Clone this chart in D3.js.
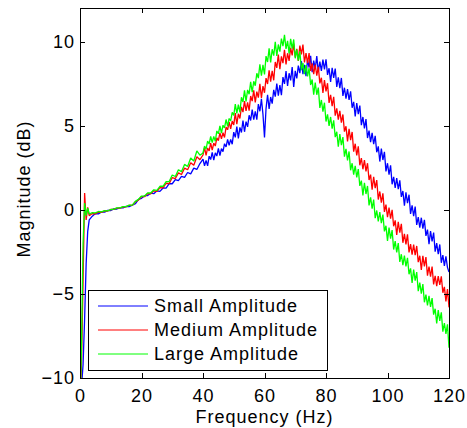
<!DOCTYPE html>
<html>
<head>
<meta charset="utf-8">
<script src="https://cdn.jsdelivr.net/npm/d3@7/dist/d3.min.js"></script>
<style>
body { margin: 0; background: white; }
text {
  font-family: "Liberation Sans", Arial, sans-serif;
  font-size: 18px;
  letter-spacing: 1px;
  fill: black;
}
.axis path, .axis line { stroke: black; fill: none; shape-rendering: crispEdges; }
</style>
</head>
<body>
<script>
// frequency samples (Hz): dense near 0, 1 Hz up to 39, then 0.5 Hz
const freq = [0, 0.5, 1, 1.5, 2, 2.5, 3,
  4, 5, 6, 7, 8, 9, 10, 11, 12, 13, 14, 15, 16, 17, 18, 19, 20, 21,
  22, 23, 24, 25, 26, 27, 28, 29, 30, 31, 32, 33, 34, 35, 36, 37, 38, 39,
  40, 40.5, 41, 41.5, 42, 42.5, 43, 43.5, 44, 44.5,
  45, 45.5, 46, 46.5, 47, 47.5, 48, 48.5, 49, 49.5,
  50, 50.5, 51, 51.5, 52, 52.5, 53, 53.5, 54, 54.5,
  55, 55.5, 56, 56.5, 57, 57.5, 58, 58.5, 59, 59.5,
  60, 60.5, 61, 61.5, 62, 62.5, 63, 63.5, 64, 64.5,
  65, 65.5, 66, 66.5, 67, 67.5, 68, 68.5, 69, 69.5,
  70, 70.5, 71, 71.5, 72, 72.5, 73, 73.5, 74, 74.5,
  75, 75.5, 76, 76.5, 77, 77.5, 78, 78.5, 79, 79.5,
  80, 80.5, 81, 81.5, 82, 82.5, 83, 83.5, 84, 84.5,
  85, 85.5, 86, 86.5, 87, 87.5, 88, 88.5, 89, 89.5,
  90, 90.5, 91, 91.5, 92, 92.5, 93, 93.5, 94, 94.5,
  95, 95.5, 96, 96.5, 97, 97.5, 98, 98.5, 99, 99.5,
  100, 100.5, 101, 101.5, 102, 102.5, 103, 103.5, 104, 104.5,
  105, 105.5, 106, 106.5, 107, 107.5, 108, 108.5, 109, 109.5,
  110, 110.5, 111, 111.5, 112, 112.5, 113, 113.5, 114, 114.5,
  115, 115.5, 116, 116.5, 117, 117.5, 118, 118.5, 119, 119.5,
  120];

const smallAmp = [-12, -10.5, -9.2, -6.5, -3.2, -1.3, -0.6,
  -0.38, -0.22, -0.24, -0.12, -0.14, -0.03, -0.04, 0.06, 0.05, 0.12, 0.11, 0.2, 0.19, 0.27, 0.36, 0.62, 0.68, 0.84,
  0.85, 0.99, 0.96, 1.13, 1.1, 1.3, 1.29, 1.56, 1.55, 1.8, 1.74, 1.99, 1.93, 2.22, 2.14, 2.48, 2.4, 2.75,
  3.02, 2.62, 2.94, 2.61, 3.19, 2.99, 3.42, 2.96, 3.39, 3.2,
  3.66, 3.23, 3.64, 3.46, 3.93, 3.74, 4.19, 3.83, 4.19, 3.9,
  4.62, 4.31, 4.95, 4.25, 4.9, 4.6, 5.31, 4.64, 5.24, 4.93,
  5.62, 5.31, 5.96, 5.36, 5.86, 5.36, 6.29, 5.86, 6.6, 5.68,
  4.3, 6.02, 6.84, 6.0, 6.71, 6.31, 7.13, 6.73, 7.5, 6.79,
  7.42, 6.82, 7.89, 7.49, 8.25, 7.36, 8.12, 7.69, 8.49, 7.3,
  8.26, 7.81, 8.58, 8.13, 8.85, 8.07, 8.62, 7.95, 8.94, 8.46,
  9.15, 8.18, 8.87, 8.39, 9.14, 8.2, 8.81, 8.26, 8.93, 8.35,
  8.95, 8.02, 8.42, 7.6, 8.44, 7.84, 8.4, 7.31, 7.87, 7.24,
  7.84, 6.77, 7.26, 6.61, 7.18, 6.53, 7.05, 6.07, 6.42, 5.55,
  6.34, 5.69, 6.2, 5.03, 5.52, 4.84, 5.39, 4.27, 4.71, 4.03,
  4.58, 3.9, 4.4, 3.42, 3.77, 2.87, 3.64, 2.96, 3.45, 2.28,
  2.77, 2.09, 2.64, 1.52, 1.96, 1.31, 1.88, 1.23, 1.75, 0.77,
  1.12, 0.25, 1.04, 0.39, 0.9, -0.24, 0.27, -0.38, 0.19, -0.9,
  -0.44, -1.06, -0.47, -1.12, -0.6, -1.55, -1.18, -2.05, -1.26, -1.88,
  -1.35, -2.49, -1.98, -2.63, -2.06, -3.15, -2.69, -3.34, -2.77, -3.42,
  -3.7];

const mediumAmp = [-12, -9, -4.2, 1.0, -0.6, 0.15, -0.35,
  -0.22, -0.24, -0.13, -0.15, -0.06, -0.07, 0.02, 0.03, 0.1, 0.1, 0.18, 0.18, 0.27, 0.26, 0.48, 0.58, 0.79, 0.78,
  0.97, 0.95, 1.13, 1.1, 1.32, 1.3, 1.58, 1.56, 1.92, 1.86, 2.2, 2.1, 2.48, 2.38, 2.8, 2.65, 3.15, 2.98,
  3.26, 3.7, 3.24, 3.68, 3.5, 3.97, 3.55, 3.97, 3.79, 4.28,
  4.11, 4.57, 4.22, 4.59, 4.3, 4.92, 4.76, 5.23, 4.81, 5.28,
  5.05, 5.75, 5.09, 5.71, 5.43, 6.12, 5.81, 6.46, 5.88, 6.39,
  5.9, 6.77, 6.46, 7.1, 6.39, 7.03, 6.67, 7.49, 6.65, 7.36,
  6.96, 7.83, 7.48, 8.3, 7.62, 8.27, 7.7, 8.79, 8.44, 9.23,
  8.36, 9.12, 8.72, 9.52, 8.65, 9.31, 8.86, 9.63, 9.18, 9.88,
  9.07, 9.57, 8.85, 9.77, 9.24, 9.83, 8.76, 9.32, 8.72, 9.32,
  8.25, 8.71, 8.06, 8.63, 7.98, 8.5, 7.52, 7.85, 6.95, 7.71,
  7.04, 7.53, 6.36, 6.84, 6.17, 6.72, 5.6, 6.03, 5.36, 5.88,
  5.18, 5.67, 4.65, 4.97, 4.07, 4.82, 4.14, 4.63, 3.46, 3.93,
  3.24, 3.77, 2.65, 3.08, 2.41, 2.95, 2.28, 2.77, 1.77, 2.09,
  1.2, 1.96, 1.29, 1.77, 0.61, 1.09, 0.42, 0.98, -0.12, 0.31,
  -0.44, 0.13, -0.52, 0.0, -0.98, -0.63, -1.5, -0.71, -1.36, -0.83,
  -1.96, -1.43, -2.06, -1.46, -2.53, -2.04, -2.67, -2.07, -2.7, -2.15,
  -3.11, -2.73, -3.57, -2.74, -3.36, -2.81, -3.92, -3.37, -3.98, -3.37,
  -4.43, -3.93, -4.54, -3.94, -4.47, -3.95, -4.93, -4.58, -5.45, -4.71,
  -5.8];

const largeAmp = [-12, -8, -2, 0.4, -0.35, 0.1, -0.25,
  -0.17, -0.18, -0.1, -0.12, -0.05, -0.06, 0.02, 0.04, 0.11, 0.11, 0.19, 0.19, 0.28, 0.28, 0.5, 0.62, 0.82, 0.82,
  1.01, 1.0, 1.19, 1.16, 1.4, 1.4, 1.68, 1.68, 2.07, 1.98, 2.38, 2.27, 2.7, 2.58, 3.08, 2.9, 3.5, 3.25,
  3.38, 3.79, 3.61, 4.09, 3.91, 4.36, 4.0, 4.37, 4.08, 4.69,
  4.52, 4.99, 4.56, 5.03, 4.87, 5.37, 4.98, 5.43, 5.29, 5.8,
  5.61, 6.28, 5.73, 6.26, 5.8, 6.69, 6.41, 7.1, 6.44, 7.13,
  6.87, 7.61, 6.99, 7.64, 7.38, 8.12, 7.83, 8.65, 7.97, 8.62,
  8.05, 9.14, 8.79, 9.6, 8.76, 9.55, 9.17, 9.99, 9.15, 9.83,
  9.41, 10.18, 9.73, 10.4, 9.57, 10.05, 9.3, 10.17, 9.59, 10.13,
  9.01, 9.52, 8.87, 9.42, 8.3, 8.73, 8.06, 8.61, 7.93, 8.42,
  7.42, 7.75, 6.85, 7.57, 6.84, 7.27, 6.06, 6.53, 5.84, 6.37,
  5.25, 5.67, 4.99, 5.52, 4.83, 5.32, 4.32, 4.64, 3.75, 4.51,
  3.84, 4.32, 3.16, 3.63, 2.94, 3.47, 2.35, 2.77, 2.09, 2.62,
  1.93, 2.42, 1.42, 1.74, 0.85, 1.61, 0.94, 1.42, 0.26, 0.74,
  0.07, 0.61, -0.5, -0.04, -0.69, -0.13, -0.79, -0.28, -1.28, -0.95,
  -1.85, -1.06, -1.71, -1.21, -2.36, -1.86, -2.53, -1.98, -3.1, -2.64,
  -3.29, -2.72, -3.37, -2.85, -3.83, -3.48, -4.35, -3.56, -4.21, -3.7,
  -4.84, -4.33, -4.98, -4.41, -5.5, -5.04, -5.69, -5.12, -5.77, -5.25,
  -6.23, -5.88, -6.75, -5.96, -6.61, -6.1, -7.24, -6.73, -7.38, -6.81,
  -8.2];

const seriesNames = ["Small Amplitude", "Medium Amplitude", "Large Amplitude"];
const seriesColors = ["#0000ff", "#ff0000", "#00ff00"];
const xTicks = [0, 20, 40, 60, 80, 100, 120];
const yTicks = [-10, -5, 0, 5, 10];

const W = 467, H = 428;
const margin = {top: 8, right: 18, bottom: 50, left: 80};
const width = W - margin.left - margin.right;
const height = H - margin.top - margin.bottom;

const svg = d3.select("body").append("svg")
  .attr("width", W)
  .attr("height", H);

const g = svg.append("g")
  .attr("transform", `translate(${margin.left},${margin.top})`);

const x = d3.scaleLinear().domain([0, 120]).range([0, width]);
const y = d3.scaleLinear().domain([-10, 12]).range([height, 0]);

g.append("defs").append("clipPath")
  .attr("id", "plotClip")
  .append("rect")
  .attr("width", width)
  .attr("height", height);

const line = d3.line()
  .x((d, i) => x(freq[i]))
  .y(d => y(d));

const dataset = [smallAmp, mediumAmp, largeAmp];

g.selectAll("path.series").data(dataset).enter()
  .append("path")
  .attr("class", "series")
  .attr("fill", "none")
  .attr("stroke", (d, i) => seriesColors[i])
  .attr("stroke-width", 1.3)
  .attr("stroke-linejoin", "bevel")
  .attr("clip-path", "url(#plotClip)")
  .attr("d", line);

// axes, MATLAB style: ticks pointing inward on all four sides
g.append("g").attr("class", "axis")
  .attr("transform", `translate(0,${height})`)
  .call(d3.axisBottom(x).tickValues(xTicks).tickSizeInner(-5).tickSizeOuter(0).tickPadding(11));

g.append("g").attr("class", "axis")
  .call(d3.axisTop(x).tickValues(xTicks).tickSizeInner(-5).tickSizeOuter(0).tickFormat(""));

g.append("g").attr("class", "axis")
  .call(d3.axisLeft(y).tickValues(yTicks).tickSizeInner(-5).tickSizeOuter(0).tickPadding(5));

g.append("g").attr("class", "axis")
  .attr("transform", `translate(${width},0)`)
  .call(d3.axisRight(y).tickValues(yTicks).tickSizeInner(-5).tickSizeOuter(0).tickFormat(""));

g.selectAll(".axis text")
  .style("font-family", '"Liberation Sans", Arial, sans-serif')
  .style("font-size", "18px");

// axis labels
svg.append("text")
  .attr("text-anchor", "middle")
  .attr("x", margin.left + width / 2)
  .attr("y", 423)
  .text("Frequency (Hz)");

svg.append("text")
  .attr("text-anchor", "middle")
  .attr("transform", `translate(30,189) rotate(-90)`)
  .text("Magnitude (dB)");

// legend
const legend = g.append("g")
  .attr("transform", `translate(${88 - margin.left},${290 - margin.top})`);

legend.append("rect")
  .attr("width", 239)
  .attr("height", 80)
  .attr("fill", "white")
  .attr("stroke", "black")
  .attr("stroke-width", 1)
  .attr("shape-rendering", "crispEdges");

const item = legend.selectAll("g.item").data(seriesNames).enter()
  .append("g")
  .attr("class", "item")
  .attr("transform", (d, i) => `translate(0,${16 + i * 24})`);

item.append("line")
  .attr("x1", 10).attr("x2", 60)
  .attr("stroke", (d, i) => seriesColors[i])
  .attr("stroke-width", 1);

item.append("text")
  .attr("x", 66)
  .attr("dy", "0.35em")
  .text(d => d);
</script>
</body>
</html>
